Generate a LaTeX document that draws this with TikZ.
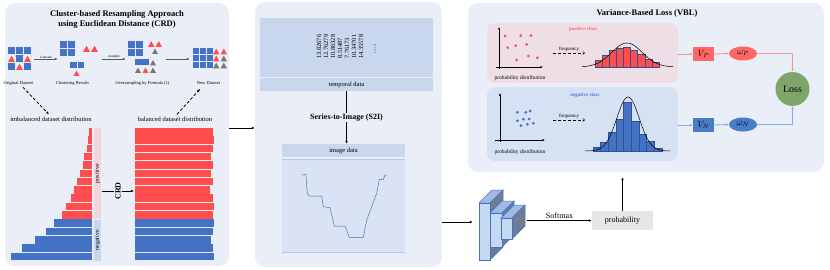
\documentclass[tikz,border=0pt]{standalone}
\usepackage{amsmath, amssymb}
\usepackage{fontspec}
\setmainfont{Liberation Serif}
\usepackage{tikz}
\usetikzlibrary{shapes.geometric, arrows.meta, positioning, calc}
\definecolor{panelBack}{RGB}{234, 238, 247}
\definecolor{barRed}{RGB}{255, 77, 77}
\definecolor{barBlue}{RGB}{68, 114, 196}
\definecolor{barEdge}{RGB}{47, 82, 143}
\definecolor{posPink}{RGB}{243, 214, 219}
\definecolor{negBlue}{RGB}{201, 215, 238}
\definecolor{dataBlue}{RGB}{200, 215, 238}
\definecolor{plotBlue}{RGB}{218, 227, 243}
\definecolor{plotLine}{RGB}{180, 199, 231}
\definecolor{triGrey}{RGB}{118, 118, 118}
\definecolor{curveBlue}{RGB}{58, 125, 181}
\definecolor{posBack}{RGB}{238, 222, 229}
\definecolor{negBack}{RGB}{214, 225, 244}
\definecolor{posText}{RGB}{255, 100, 100}
\definecolor{negText}{RGB}{70, 120, 210}
\definecolor{vpRed}{RGB}{255, 102, 102}
\definecolor{vnBlue}{RGB}{74, 124, 200}
\definecolor{arrowRed}{RGB}{244, 150, 150}
\definecolor{arrowBlue}{RGB}{135, 170, 230}
\definecolor{lossGreen}{RGB}{127, 165, 106}
\definecolor{cnnFront}{RGB}{197, 217, 241}
\definecolor{cnnTop}{RGB}{160, 188, 230}
\definecolor{cnnSide}{RGB}{110, 124, 150}
\definecolor{probGrey}{RGB}{230, 230, 230}
\newcommand{\blueSq}[3]{\fill[barBlue] (#1,#2) rectangle ++(#3,#3);}
\newcommand{\iconTri}[4]{\fill[#4] (#1,#2) -- ++(#3,0) -- ++({-0.5*#3},{-0.9*#3}) -- cycle;}
\newcommand{\cnnBlock}[5]{
  \filldraw[fill=cnnTop, draw=barBlue, line width=0.5pt] (#1,#2) -- ++(#5,-#5) -- ({#3+#5},{#2-#5}) -- (#3,#2) -- cycle;
  \filldraw[fill=cnnSide, draw=barBlue, line width=0.5pt] (#3,#2) -- ({#3+#5},{#2-#5}) -- ({#3+#5},{#4-#5}) -- (#3,#4) -- cycle;
  \filldraw[fill=cnnFront, draw=barBlue, line width=0.5pt] (#1,#2) rectangle (#3,#4);}
\tikzset{
  panel/.style={rectangle, rounded corners=10pt, fill=panelBack, inner sep=0pt},
  subpanel/.style={rectangle, rounded corners=8pt, inner sep=0pt, minimum width=191pt},
  paneltitle/.style={font=\bfseries\fontsize{8.5}{10}\selectfont, align=center, inner sep=0pt},
  tinylab/.style={font=\fontsize{4.5}{5}\selectfont, inner sep=0.5pt},
  smalllab/.style={font=\fontsize{6.5}{7}\selectfont, inner sep=0.5pt},
  datastrip/.style={rectangle, fill=dataBlue, inner sep=0pt, font=\fontsize{6.5}{7}\selectfont},
  icongroup/.style={rectangle, inner sep=0pt, minimum height=30pt},
  varbox/.style={rectangle, inner sep=0pt, minimum width=21pt, minimum height=14pt, font=\fontsize{9}{10}\selectfont},
  weight/.style={ellipse, inner sep=0pt, minimum width=28pt, minimum height=14pt, font=\fontsize{9}{10}\selectfont},
  flow/.style={-{Latex[length=3pt, width=2.6pt]}, line width=0.6pt},
  hop/.style={-{Latex[length=3pt, width=2.6pt]}, line width=0.8pt, dash pattern=on 3pt off 2pt},
  freq/.style={-{Straight Barb[length=2pt, width=3pt]}, line width=0.4pt, densely dashed}
}
\begin{document}
\begin{tikzpicture}[x=1pt, y=-1pt]
\useasboundingbox (0,0) rectangle (830,270);

\node[panel, minimum width=224pt, minimum height=263pt] (crdPanel) at (117,134.5) {};
\node[panel, minimum width=187pt, minimum height=265pt] (s2iPanel) at (348.5,134.5) {};
\node[panel, minimum width=356pt, minimum height=169pt] (vblPanel) at (646,87.5) {};

\node[paneltitle] (crdTitle) at (117,19) {Cluster-based Resampling Approach\\using Euclidean Distance (CRD)};

\node[icongroup, minimum width=24pt] (orig) at (20,59) {};
\node[icongroup, minimum width=40pt] (clus) at (80,59) {};
\node[icongroup, minimum width=36pt] (over) at (146,59) {};
\node[icongroup, minimum width=36pt] (newd) at (210,59) {};
\blueSq{8}{47}{7} \blueSq{16}{47}{7} \blueSq{24}{47}{7}
\iconTri{8}{62}{7}{barRed} \blueSq{16}{55}{7} \iconTri{24}{62}{7}{barRed}
\blueSq{8}{63}{7} \iconTri{16}{70}{7}{barRed} \blueSq{24}{63}{7}
\blueSq{60}{41}{7} \blueSq{68}{41}{7} \blueSq{60}{49}{7} \blueSq{68}{49}{7}
\iconTri{83}{52}{7}{barRed} \iconTri{91}{52}{7}{barRed}
\blueSq{70}{62}{6.5} \blueSq{77.5}{62}{6.5} \iconTri{73.5}{76}{6}{barRed}
\blueSq{128}{41}{7} \blueSq{136}{41}{7} \blueSq{128}{49}{7} \blueSq{136}{49}{7}
\iconTri{148}{47}{6.5}{barRed} \iconTri{155.5}{47}{6.5}{barRed} \iconTri{152}{54}{6}{triGrey}
\blueSq{135}{59}{6.5} \blueSq{142}{59}{6.5} \iconTri{150}{65.5}{6}{triGrey}
\iconTri{135}{73}{6}{triGrey} \iconTri{142.5}{73}{6}{barRed} \iconTri{150}{73}{6}{triGrey}
\foreach \c in {0,1,2}
  \foreach \r in {0,1,2}
    {\blueSq{193+7*\c}{48+7*\r}{6.3}}
\iconTri{213}{54.5}{6.5}{barRed} \iconTri{220.5}{54.5}{6.5}{barRed}
\iconTri{213}{61.5}{6.5}{barRed} \iconTri{220.5}{61.5}{6.5}{triGrey}
\iconTri{213}{68.5}{6.5}{triGrey} \iconTri{220.5}{68.5}{6.5}{triGrey}

\draw[flow, black!65, shorten <=2pt, shorten >=2pt] (orig.east) -- node[above, tinylab, black, font=\fontsize{3.5}{4}\selectfont] {k-means} (clus.west);
\draw[flow, black!65, shorten <=2pt, shorten >=2pt] (clus.east) -- node[above, tinylab, black, font=\fontsize{3.5}{4}\selectfont] {example} (over.west);
\draw[flow, black!65, shorten <=2pt, shorten >=2pt] (over.east) -- (newd.west);

\node[tinylab] (origLab) at (18.5,83) {Original Dataset};
\node[tinylab] (clusLab) at (72.5,83) {Clustering Results};
\node[tinylab] (overLab) at (142.5,83) {Oversampling by Formula (1)};
\node[tinylab] (newLab) at (208.5,83) {New Dataset};
\node[smalllab] (imbLab) at (51,119.5) {imbalanced dataset distribution};
\node[smalllab] (balLab) at (175,119.5) {balanced dataset distribution};
\draw[hop, shorten <=2pt, shorten >=3pt] ([xshift=3pt]origLab.south) -- (imbLab.north);
\draw[hop, shorten <=3pt, shorten >=5pt] (balLab.north) -- ([xshift=-5pt]newLab.south);

\foreach \w [count=\i] in {3,4,5,8,9,12,15,18,21,26,30}
  \fill[barRed] ({92-\w},{119.7+\i*8.31}) rectangle (92,{127.2+\i*8.31});
\foreach \w [count=\i from 12] in {38,46,57,70,81}
  \fill[barBlue] ({92-\w},{119.7+\i*8.31}) rectangle (92,{127.2+\i*8.31});
\foreach \r [count=\i] in {212.7,214.3,212.7,211,212.7,211,212.7,210,212.7,214.3,212.7}
  \fill[barRed] (135,{119.7+\i*8.31}) rectangle (\r,{127.2+\i*8.31});
\foreach \r [count=\i from 12] in {214.3,212.7,211,212.7,214.3}
  \fill[barBlue] (135,{119.7+\i*8.31}) rectangle (\r,{127.2+\i*8.31});

\node[rectangle, fill=posPink, minimum width=91pt, minimum height=7pt, inner sep=0pt, rotate=90, font=\fontsize{6}{6}\selectfont] (posStrip) at (97.5,173.5) {positive};
\node[rectangle, fill=negBlue, minimum width=41pt, minimum height=7pt, inner sep=0pt, rotate=90, font=\fontsize{6}{6}\selectfont] (negStrip) at (97.5,240.5) {negative};
\coordinate (crdFrom) at (102,191);
\coordinate (crdTo) at (134,191);
\draw[flow] (crdFrom) -- node[fill=panelBack, rotate=90, inner sep=1pt, font=\bfseries\fontsize{8}{8}\selectfont] {CRD} (crdTo);

\draw[flow] ([yshift=6.5pt]crdPanel.east) -- ([yshift=6.5pt]crdPanel.east -| s2iPanel.west);

\node[datastrip, minimum width=173pt, minimum height=59pt] (tempBox) at (346.5,47.5) {};
\node[datastrip, minimum width=173pt, minimum height=13pt] (tempLab) at (346.5,84.5) {temporal data};
\foreach \v [count=\i] in {13.82676, 12.76279, 10.86328, 8.51487, 7.76173, 10.34701, 14.35578}
  \node[rotate=90, anchor=west, inner sep=0pt, font=\fontsize{6.4}{7}\selectfont] at ({312+7*\i},59) {\v};
\node[rotate=90, inner sep=0pt, font=\fontsize{6.4}{7}\selectfont] at (375,48.5) {......};

\node[datastrip, minimum width=123pt, minimum height=13pt] (imgHead) at (343.5,150.5) {image data};
\node[rectangle, fill=plotBlue, minimum width=123pt, minimum height=93pt, inner sep=0pt] (imgPlot) at (343.5,205.5) {};
\draw[plotLine, line width=0.6pt] (imgPlot.north west) -- (imgPlot.north east);
\draw[plotLine, line width=0.6pt] (imgPlot.south west) -- (imgPlot.south east);
\draw[curveBlue, line width=0.5pt] (302,175) -- (305.5,174.5) -- (306,175.7) -- (307.3,193.3) -- (309.3,196) -- (321.7,196) -- (323.3,206.7) -- (330,207.7) -- (334.3,226) -- (345,226) -- (349.3,237.3) -- (363.3,237.3) -- (366.7,220) -- (371.7,206.7) -- (376.7,193.3) -- (379.3,179.3) -- (383.3,179.3) -- (385,175) -- (387.3,175);

\draw[flow] (tempLab.south) -- node[fill=panelBack, inner sep=1pt, font=\bfseries\fontsize{8}{9}\selectfont] {Series-to-Image (S2I)} (tempLab.south |- imgHead.north);

\node[rectangle, inner sep=0pt, minimum width=48pt, minimum height=76pt] (cnn) at (503,222) {};
\cnnBlock{479}{203}{490}{260}{13}
\cnnBlock{490}{213}{502}{247}{12}
\cnnBlock{501}{218}{512}{239}{13}
\draw[flow, shorten >=6pt] (s2iPanel.east |- cnn.west) -- (cnn.west);

\node[rectangle, fill=probGrey, minimum width=61pt, minimum height=19pt, inner sep=0pt, font=\fontsize{8}{9}\selectfont] (probBox) at (622.5,220.5) {probability};
\draw[flow] (cnn.east |- probBox.west) -- node[above, inner sep=1.5pt, font=\fontsize{8}{9}\selectfont] {Softmax} (probBox.west);
\draw[flow, shorten >=5pt] (probBox.north) -- (probBox.north |- vblPanel.south);

\node[paneltitle] (vblTitle) at (647,13) {Variance-Based Loss (VBL)};
\node[subpanel, fill=posBack, minimum height=60pt] (posPanel) at (582.5,53) {};
\node[subpanel, fill=negBack, minimum height=74pt] (negPanel) at (582.5,124) {};
\node[font=\bfseries\fontsize{5}{6}\selectfont, text=posText, inner sep=0pt] (posLab) at (583,29.5) {positive class};
\node[font=\bfseries\fontsize{5}{6}\selectfont, text=negText, inner sep=0pt] (negLab) at (585,95) {negative class};

\draw[-{Latex[length=2.5pt, width=2.2pt]}, line width=0.5pt] (499,69) -- (499,27);
\draw[-{Latex[length=2.5pt, width=2.2pt]}, line width=0.5pt] (496,67) -- (543,67);
\foreach \p in {(505,36),(520.7,35.7),(531,35.7),(507.7,47.7),(515.7,45.7),(526.7,44.3),(528.3,56),(537.3,57.7),(516.7,60)}
  \fill[barRed] \p circle[radius=1.5pt];
\node[tinylab, font=\fontsize{5.5}{6}\selectfont] (probLabP) at (520,78.5) {probability distribution};
\coordinate (freqPFrom) at (553,53);
\coordinate (freqPTo) at (585,53);
\draw[freq] (freqPFrom) -- node[above, inner sep=0.8pt, font=\fontsize{5}{6}\selectfont] {frequency} (freqPTo);
\foreach \h [count=\i] in {7,12,17,19,20,17,13,8,5}
  \draw[fill=barRed, draw=barEdge, line width=0.4pt] ({587.9+\i*7.1},67) rectangle ({595+\i*7.1},{67-\h});
\draw[line width=0.5pt] plot[domain=582:673, samples=60, smooth] (\x,{67-24*exp(-(((\x-627)/21.6)^2))});

\draw[-{Latex[length=2.5pt, width=2.2pt]}, line width=0.5pt] (500,142) -- (500,93);
\draw[-{Latex[length=2.5pt, width=2.2pt]}, line width=0.5pt] (495,140) -- (545,140);
\foreach \p in {(517.3,112.3),(525.7,112.3),(530,111),(517.3,120.7),(523.3,119.3),(529,119),(521,125.7),(527.3,124.3),(533.3,123.3)}
  \fill[barBlue] \p circle[radius=1.5pt];
\node[tinylab, font=\fontsize{5.5}{6}\selectfont] (probLabN) at (520,152) {probability distribution};
\coordinate (freqNFrom) at (553,120);
\coordinate (freqNTo) at (585,120);
\draw[freq] (freqNFrom) -- node[above, inner sep=0.8pt, font=\fontsize{5}{6}\selectfont] {frequency} (freqNTo);
\foreach \h [count=\i] in {3.7,9.3,18.7,31.7,49.3,30.3,17,10,2.7}
  \draw[fill=barBlue, draw=barEdge, line width=0.4pt] ({585.3+\i*7.67},151) rectangle ({593+\i*7.67},{151-\h});
\draw[line width=0.5pt] plot[domain=585:670, samples=60, smooth] (\x,{151-54*exp(-(((\x-628)/15.9)^2))});

\node[varbox, fill=vpRed] (vP) at (703.5,54) {$V_P$};
\node[weight, fill=vpRed] (wP) at (743,53.5) {$\omega_P$};
\node[varbox, fill=vnBlue] (vN) at (703.5,125) {$V_N$};
\node[weight, fill=vnBlue] (wN) at (743,124.5) {$\omega_N$};
\node[circle, fill=lossGreen, minimum size=34pt, inner sep=0pt, font=\fontsize{10}{11}\selectfont] (loss) at (792.5,89) {Loss};

\draw[flow, arrowRed, line width=0.8pt] (posPanel.east |- vP.west) -- (vP.west);
\draw[flow, arrowRed, line width=0.8pt] (vP.east) -- (wP.west);
\draw[flow, arrowRed, line width=0.8pt] (wP.east) -| (loss.north);
\draw[flow, arrowBlue, line width=0.8pt] (negPanel.east |- vN.west) -- (vN.west);
\draw[flow, arrowBlue, line width=0.8pt] (vN.east) -- (wN.west);
\draw[flow, arrowBlue, line width=0.8pt] (wN.east) -| (loss.south);
\end{tikzpicture}
\end{document}
